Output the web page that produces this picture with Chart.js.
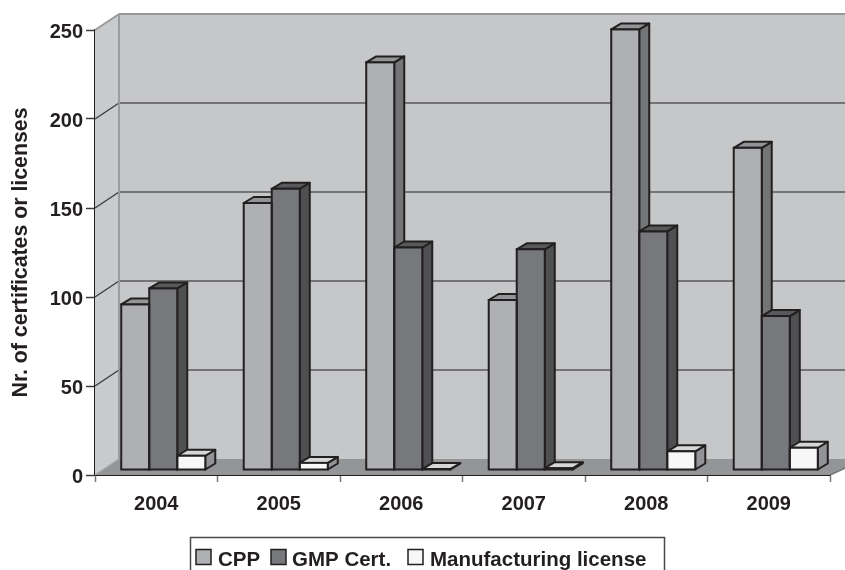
<!DOCTYPE html>
<html>
<head>
<meta charset="utf-8">
<style>html,body{margin:0;padding:0;background:#fff;overflow:hidden}canvas{display:block}</style>
<script src="https://cdn.jsdelivr.net/npm/chart.js@4/dist/chart.umd.min.js"></script>
</head>
<body>
<canvas id="c" width="845" height="570"></canvas>
<script>
const years = ['2004', '2005', '2006', '2007', '2008', '2009'];
const cpp = [93, 150, 229, 95.5, 247.5, 181];
const gmp = [102, 158, 125, 124, 134, 86.5];
const manufacturing = [8, 4, 0.5, 1, 10.5, 12.5];
const yTicks = [0, 50, 100, 150, 200, 250];

const INK = '#231f20';
const FONT = '"Liberation Sans", Arial, sans-serif';
// Oblique projection: wall depth and the shallower bar depth, in pixels.
const WALL = { dx: 24, dy: 16 };
const BAR = { dx: 10, dy: 6 };
const SHIFT = { dx: 7, dy: 5 };

const shades = [
  { front: '#afb0b3', side: '#747577', top: '#939496' },
  { front: '#77787b', side: '#4f5052', top: '#58595b' },
  { front: '#f7f7f7', side: '#929396', top: '#d6d7d7' }
];

function poly(ctx, pts, fill, stroke, width) {
  ctx.beginPath();
  pts.forEach((p, i) => i ? ctx.lineTo(p[0], p[1]) : ctx.moveTo(p[0], p[1]));
  ctx.closePath();
  if (fill) { ctx.fillStyle = fill; ctx.fill(); }
  if (stroke) { ctx.strokeStyle = stroke; ctx.lineWidth = width; ctx.stroke(); }
}
function seg(ctx, x0, y0, x1, y1, color, width) {
  ctx.beginPath(); ctx.moveTo(x0, y0); ctx.lineTo(x1, y1);
  ctx.strokeStyle = color; ctx.lineWidth = width; ctx.stroke();
}
function boxOf(el) {
  const p = el.getProps(['x', 'y', 'base', 'width'], true);
  return {
    l: p.x - p.width / 2 + SHIFT.dx,
    r: p.x + p.width / 2 + SHIFT.dx,
    t: p.y - SHIFT.dy,
    b: p.base - SHIFT.dy
  };
}

const room = {
  id: 'room',
  beforeDatasetsDraw(chart) {
    const { ctx, chartArea: a, scales: { y } } = chart;
    const W = chart.width;
    const bx = a.left + WALL.dx, by = WALL.dy;
    ctx.save();
    ctx.lineJoin = 'round';
    // Walls and floor of the plot box.
    poly(ctx, [[a.left, a.top], [bx, a.top - by], [bx, a.bottom - by], [a.left, a.bottom]], '#c9cacc');
    poly(ctx, [[bx, a.top - by], [W, a.top - by], [W, a.bottom - by], [bx, a.bottom - by]], '#c6c7c9');
    poly(ctx, [[a.left, a.bottom], [bx, a.bottom - by], [W + 20, a.bottom - by], [a.right, a.bottom]], '#949597');
    // Gridlines run along the back wall and fold down the left wall.
    yTicks.slice(1, -1).forEach(v => {
      const py = y.getPixelForValue(v);
      seg(ctx, bx, py - by, W, py - by, '#58595b', 1.6);
      seg(ctx, a.left, py, bx, py - by, '#3c3c3e', 1.4);
    });
    seg(ctx, bx, a.top - by, W, a.top - by, '#97989a', 1.8);
    seg(ctx, a.left, a.top, bx, a.top - by, '#97989a', 1.8);
    seg(ctx, bx, a.top - by, bx, a.bottom - by, '#97989a', 1.8);
    seg(ctx, a.left, a.bottom, bx, a.bottom - by, '#a5a6a8', 1.4);
    seg(ctx, a.right, a.bottom, W + 20, a.bottom - by, '#77787b', 1.6);

    // Sides and caps go behind every front face, painted left to right.
    chart.data.datasets.forEach((ds, di) => {
      chart.getDatasetMeta(di).data.forEach(el => {
        const b = boxOf(el), s = shades[di];
        poly(ctx, [[b.r, b.t], [b.r + BAR.dx, b.t - BAR.dy], [b.r + BAR.dx, b.b - BAR.dy], [b.r, b.b]], s.side, INK, 2);
        poly(ctx, [[b.l, b.t], [b.l + BAR.dx, b.t - BAR.dy], [b.r + BAR.dx, b.t - BAR.dy], [b.r, b.t]], s.top, INK, 2);
      });
    });
    ctx.restore();
    // Front faces sit partway into the floor.
    ctx.save();
    ctx.translate(SHIFT.dx, -SHIFT.dy);
  },
  afterDatasetsDraw(chart) {
    const { ctx } = chart;
    ctx.restore();
    ctx.save();
    ctx.strokeStyle = INK;
    ctx.lineWidth = 2;
    chart.data.datasets.forEach((ds, di) => {
      chart.getDatasetMeta(di).data.forEach(el => {
        const b = boxOf(el);
        ctx.strokeRect(b.l, b.t, b.r - b.l, b.b - b.t);
      });
    });
    ctx.restore();
  }
};

// Framed key along the bottom edge.
const keyFrame = {
  id: 'keyFrame',
  afterDraw(chart) {
    const { ctx } = chart;
    const boxX = [196, 271, 408], textX = [218, 292, 430];
    ctx.save();
    ctx.strokeStyle = '#4a4a4c';
    ctx.lineWidth = 1.5;
    ctx.beginPath();
    ctx.moveTo(190.5, 572); ctx.lineTo(190.5, 537.5); ctx.lineTo(664.5, 537.5); ctx.lineTo(664.5, 572);
    ctx.stroke();
    ctx.font = 'bold 20.5px ' + FONT;
    ctx.textBaseline = 'alphabetic';
    ctx.textAlign = 'left';
    chart.data.datasets.forEach((ds, i) => {
      ctx.fillStyle = ds.backgroundColor;
      ctx.fillRect(boxX[i], 549.5, 15, 15);
      ctx.strokeStyle = INK;
      ctx.lineWidth = 1.5;
      ctx.strokeRect(boxX[i], 549.5, 15, 15);
      ctx.fillStyle = INK;
      ctx.fillText(ds.label, textX[i], 566);
    });
    ctx.restore();
  }
};

const barShape = { borderWidth: 0, barPercentage: 1, categoryPercentage: 0.686, clip: false };

new Chart(document.getElementById('c'), {
  type: 'bar',
  data: {
    labels: years,
    datasets: [
      { label: 'CPP', data: cpp, backgroundColor: shades[0].front, ...barShape },
      { label: 'GMP Cert.', data: gmp, backgroundColor: shades[1].front, ...barShape },
      { label: 'Manufacturing license', data: manufacturing, backgroundColor: shades[2].front, ...barShape }
    ]
  },
  options: {
    responsive: false,
    animation: false,
    layout: { padding: { top: 30, right: 15, left: 8, bottom: 0 } },
    plugins: { legend: { display: false }, title: { display: false }, tooltip: { enabled: false } },
    scales: {
      x: {
        afterFit(s) { s.height = 95; },
        grid: { drawOnChartArea: false, tickLength: 7, tickColor: '#77787b', tickWidth: 1.5, offset: true },
        border: { color: INK, width: 2 },
        ticks: { color: INK, padding: 10, maxRotation: 0, font: { family: FONT, size: 20, weight: 'bold' } }
      },
      y: {
        min: 0,
        max: 250,
        afterFit(s) { s.width = 87; },
        afterBuildTicks(s) { s.ticks = yTicks.map(v => ({ value: v })); },
        grid: { drawOnChartArea: false, tickLength: 9, tickColor: '#3c3c3e', tickWidth: 1.5 },
        border: { color: INK, width: 2 },
        ticks: { color: INK, padding: 3, labelOffset: 2, font: { family: FONT, size: 20, weight: 'bold' } },
        title: {
          display: true,
          text: 'Nr. of certificates or licenses',
          color: INK,
          padding: { top: 0, bottom: 0 },
          font: { family: FONT, size: 21.3, weight: 'bold' }
        }
      }
    }
  },
  plugins: [room, keyFrame]
});
</script>
</body>
</html>
